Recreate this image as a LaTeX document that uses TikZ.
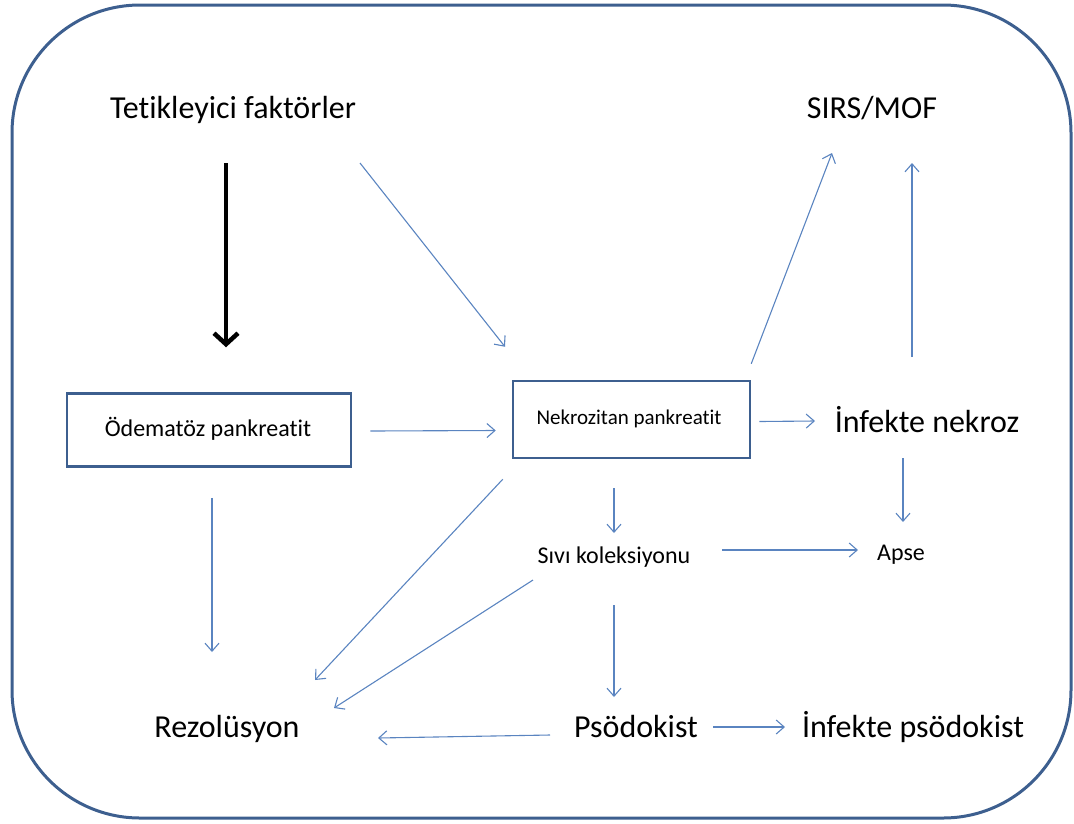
\documentclass[tikz,border=0pt]{standalone}
\usepackage{fontspec}
\setmainfont{Carlito}[Ligatures=NoCommon]
\usetikzlibrary{calc,arrows.meta}
\definecolor{frameblue}{HTML}{3D5F8F}
\definecolor{arrowblue}{HTML}{5A84C0}

\begin{document}
\begin{tikzpicture}[x=1pt,y=-1pt,
  lbl/.style={inner sep=0pt, anchor=base},
  big/.style={lbl, font=\fontsize{32}{36}\selectfont},
  small/.style={lbl, font=\fontsize{24}{28}\selectfont},
  box/.style={draw=frameblue, line width=2.5pt, inner sep=0pt},
  arr/.style={arrowblue, line width=1.1pt, -{Straight Barb[length=8pt,width=14pt]}},
  thickarr/.style={black, line width=4.5pt, -{Straight Barb[length=11pt,width=24pt]}}]
\useasboundingbox (0,0) rectangle (1074,823);
\draw [frameblue, line width=3pt, rounded corners=128pt] (12,5) rectangle (1071,818);

% labels
\node [big] (tet) at (233,118) {Tetikleyici faktörler};
\node [big] (sirs) at (872,118) {SIRS/MOF};
\node [box, minimum width=284pt, minimum height=73pt] (ode) at (209,430) {};
\node [small] (odetxt) at (208,436) {Ödematöz pankreatit};
\node [box, minimum width=237pt, minimum height=77pt] (nek) at (631.5,419.5) {};
\node [lbl, font=\fontsize{21}{25}\selectfont] (nektxt) at (629,424) {Nekrozitan pankreatit};
\node [big] (infn) at (927,432) {İnfekte nekroz};
\node [small] (apse) at (901,560) {Apse};
\node [small] (sivi) at (614,563) {Sıvı koleksiyonu};
\node [big] (rez) at (227,737) {Rezolüsyon};
\node [big] (pso) at (636,737) {Psödokist};
\node [big] (infp) at (913,737) {İnfekte psödokist};

% arrows
\draw [thickarr] ($(tet.base)+(-7,45)$) -- ($(ode.north)+(17,-45)$);
\draw [arr] ($(tet.base)+(127,45)$) -- ($(nek.north)+(-126.5,-33)$);
\draw [arr] ($(ode.east)+(18,1)$) -- ($(nek.west)+(-16,11)$);
\draw [arr] ($(nek.east)+(8,2)$) -- ($(infn.base)+(-112,-11)$);
\draw [arr] ($(nek.north east)+(0,-16)$) -- ($(sirs.base)+(-40,35)$);
\draw [arr] ($(infn.base)+(-15,-75)$) -- ($(sirs.base)+(40,45)$);
\draw [arr] ($(infn.base)+(-24,26)$) -- ($(apse.base)+(2,-38)$);
\draw [arr] ($(nek.south)+(-17.5,29)$) -- ($(sivi.base)+(0,-30)$);
\draw [arr] ($(sivi.base)+(108,-13)$) -- ($(apse.base)+(-43,-10)$);
\draw [arr] ($(sivi.base)+(0,42)$) -- ($(pso.base)+(-22,-40)$);
\draw [arr] ($(nek.south west)+(-9,20)$) -- ($(rez.base)+(88,-57)$);
\draw [arr] ($(sivi.base)+(-81,17)$) -- ($(rez.base)+(107,-29)$);
\draw [arr] ($(ode.south)+(3,30)$) -- ($(rez.base)+(-15,-85)$);
\draw [arr] ($(pso.base)+(-86,-2)$) -- ($(rez.base)+(151,1)$);
\draw [arr] ($(pso.base)+(77,-10)$) -- ($(infp.base)+(-128,-10)$);
\end{tikzpicture}
\end{document}
